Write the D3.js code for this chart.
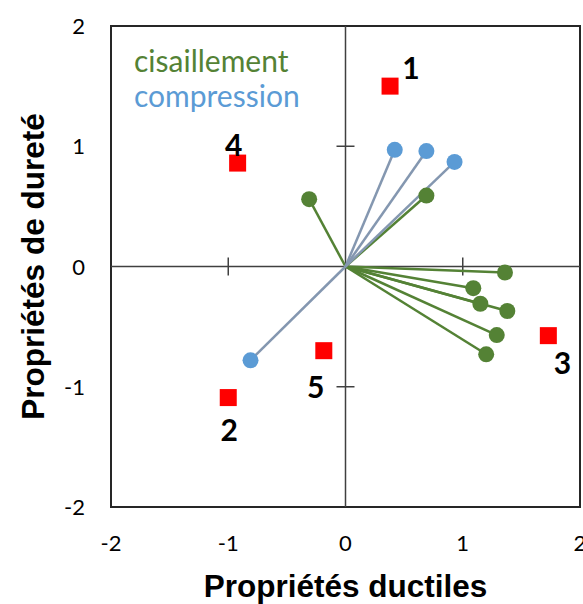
<!DOCTYPE html>
<html>
<head>
<meta charset="utf-8">
<script src="https://cdn.jsdelivr.net/npm/d3@7/dist/d3.min.js"></script>
<style>
  html, body { margin: 0; padding: 0; background: #fff; }
  svg { display: block; }
</style>
</head>
<body>
<svg id="chart" width="583" height="604"></svg>
<script>
// ---- data ----
const xTicks = [-2, -1, 0, 1, 2];
const yTicks = [-2, -1, 0, 1, 2];
const xTitle = "Propriétés ductiles";
const yTitle = "Propriétés de dureté";

// red squares (groups)
const groupNames = ["1", "2", "3", "4", "5"];
const groupX = [0.38, -1.00, 1.73, -0.92, -0.185];
const groupY = [1.50, -1.09, -0.575, 0.86, -0.70];

// shear (cisaillement) vectors
const shearX = [-0.31, 0.69, 1.36, 1.09, 1.15, 1.38, 1.29, 1.20];
const shearY = [0.56, 0.59, -0.05, -0.18, -0.31, -0.37, -0.57, -0.73];

// compression vectors
const compX = [0.42, 0.69, 0.93, -0.81];
const compY = [0.97, 0.96, 0.87, -0.78];

const legendLabels = ["cisaillement", "compression"];

// ---- layout / style ----
const W = 583, H = 604;
const plot = { left: 111, right: 580, top: 26, bottom: 507 };
const labelOffset = { "1": [21, -18], "2": [1, 32], "3": [14, 27], "4": [-4, -18], "5": [-8, 36] };
const green = "#548235", blue = "#5B9BD5", lineBlue = "#8497B0", red = "#FF0000";
const axisColor = "#404040";

const svg = d3.select("#chart");
const x = d3.scaleLinear().domain([-2, 2]).range([plot.left, plot.right]);
const y = d3.scaleLinear().domain([-2, 2]).range([plot.bottom, plot.top]);

// plot border
svg.append("rect")
  .attr("x", plot.left).attr("y", plot.top)
  .attr("width", plot.right - plot.left).attr("height", plot.bottom - plot.top)
  .attr("fill", "none").attr("stroke", "#262626").attr("stroke-width", 2);

// axes through origin
const ax = svg.append("g").attr("stroke", axisColor).attr("stroke-width", 1.5);
ax.append("line").attr("x1", x(-2)).attr("x2", x(2)).attr("y1", y(0)).attr("y2", y(0));
ax.append("line").attr("x1", x(0)).attr("x2", x(0)).attr("y1", y(-2)).attr("y2", y(2));
// cross tick marks
ax.selectAll(".xt").data(xTicks.filter(t => t !== 0 && Math.abs(t) < 2)).join("line")
  .attr("x1", d => x(d)).attr("x2", d => x(d))
  .attr("y1", y(0) - 9).attr("y2", y(0) + 9);
ax.selectAll(".yt").data(yTicks.filter(t => t !== 0 && Math.abs(t) < 2)).join("line")
  .attr("y1", d => y(d)).attr("y2", d => y(d))
  .attr("x1", x(0) - 9).attr("x2", x(0) + 9);

// tick labels (outside of plot)
const tickFont = "Lato, 'Open Sans', sans-serif";
svg.append("g").selectAll("text").data(xTicks).join("text")
  .attr("x", d => x(d)).attr("y", 551)
  .attr("text-anchor", "middle")
  .attr("font-family", tickFont).attr("font-size", 22).attr("fill", "#000")
  .text(d => d);
svg.append("g").selectAll("text").data(yTicks).join("text")
  .attr("x", 85).attr("y", d => y(d) + 8)
  .attr("text-anchor", "end")
  .attr("font-family", tickFont).attr("font-size", 22).attr("fill", "#000")
  .text(d => d);

// axis titles
const titleFont = "'Liberation Sans', Arial, sans-serif";
svg.append("text")
  .attr("x", x(0)).attr("y", 597)
  .attr("text-anchor", "middle")
  .attr("font-family", titleFont).attr("font-weight", "bold").attr("font-size", 31.5)
  .attr("fill", "#000").text(xTitle);
svg.append("text")
  .attr("transform", `translate(44, ${y(0)}) rotate(-90)`)
  .attr("text-anchor", "middle")
  .attr("font-family", titleFont).attr("font-weight", "bold").attr("font-size", 31.5)
  .attr("fill", "#000").text(yTitle);

// vectors
const shear = shearX.map((v, i) => ({ x: v, y: shearY[i] }));
const comp = compX.map((v, i) => ({ x: v, y: compY[i] }));
const groups = groupNames.map((n, i) => ({ name: n, x: groupX[i], y: groupY[i] }));

svg.append("g").selectAll("line").data(shear).join("line")
  .attr("x1", x(0)).attr("y1", y(0))
  .attr("x2", d => x(d.x)).attr("y2", d => y(d.y))
  .attr("stroke", green).attr("stroke-width", 2.5);
svg.append("g").selectAll("line").data(comp).join("line")
  .attr("x1", x(0)).attr("y1", y(0))
  .attr("x2", d => x(d.x)).attr("y2", d => y(d.y))
  .attr("stroke", lineBlue).attr("stroke-width", 2.5);

svg.append("g").selectAll("circle").data(shear).join("circle")
  .attr("cx", d => x(d.x)).attr("cy", d => y(d.y)).attr("r", 8)
  .attr("fill", green);
svg.append("g").selectAll("circle").data(comp).join("circle")
  .attr("cx", d => x(d.x)).attr("cy", d => y(d.y)).attr("r", 8)
  .attr("fill", blue);

// group squares
const sq = 17;
svg.append("g").selectAll("rect").data(groups).join("rect")
  .attr("x", d => x(d.x) - sq / 2).attr("y", d => y(d.y) - sq / 2)
  .attr("width", sq).attr("height", sq).attr("fill", red);
svg.append("g").selectAll("text").data(groups).join("text")
  .attr("x", d => x(d.x) + labelOffset[d.name][0])
  .attr("y", d => y(d.y) + labelOffset[d.name][1] + 11)
  .attr("text-anchor", "middle")
  .attr("font-family", tickFont).attr("font-weight", "bold").attr("font-size", 30)
  .attr("fill", "#000").text(d => d.name);

// legend text
svg.append("g").selectAll("text").data(legendLabels).join("text")
  .attr("x", 134).attr("y", (d, i) => 72 + i * 35)
  .attr("font-family", tickFont).attr("font-size", 30)
  .attr("fill", (d, i) => i === 0 ? green : blue)
  .text(d => d);
</script>
</body>
</html>
